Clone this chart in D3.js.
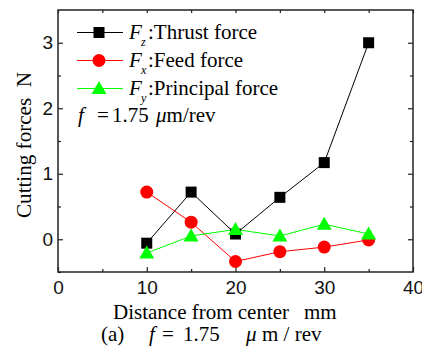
<!DOCTYPE html>
<html><head><meta charset="utf-8">
<script src="https://cdn.jsdelivr.net/npm/d3@7"></script>
<style>
body{margin:0;background:#fff;}
svg text{white-space:pre;}
</style></head>
<body>
<script>
const distances = [10, 15, 20, 25, 30, 35];
const thrustFz = [-0.06, 0.72, 0.08, 0.64, 1.17, 3.0];
const feedFx = [0.72, 0.26, -0.34, -0.19, -0.12, -0.01];
const principalFy = [-0.21, 0.05, 0.15, 0.05, 0.23, 0.08];
const xTicks = [0, 10, 20, 30, 40];
const yTicks = [0, 1, 2, 3];

const W = 422, H = 351;
const m = {l: 58, r: 413, t: 10, b: 272};
const svg = d3.select("body").append("svg").attr("width", W).attr("height", H);
const x = d3.scaleLinear().domain([0, 40]).range([m.l, m.r]);
const y = d3.scaleLinear().domain([-0.5, 3.5]).range([m.b, m.t]);

const axisColor = "#222";
svg.append("rect").attr("x", m.l).attr("y", m.t).attr("width", m.r - m.l).attr("height", m.b - m.t)
  .attr("fill", "none").attr("stroke", axisColor).attr("stroke-width", 1.5);

const tickFont = "'Liberation Sans', Arial, sans-serif";
svg.append("g").attr("transform", `translate(0,${m.b})`)
  .call(d3.axisBottom(x).tickValues(xTicks).tickSize(-5).tickPadding(9).tickFormat(d3.format("d")));
svg.append("g").attr("transform", `translate(0,${m.b})`)
  .call(d3.axisBottom(x).tickValues([5, 15, 25, 35]).tickSize(-3).tickFormat(""));
svg.append("g").attr("transform", `translate(0,${m.t})`)
  .call(d3.axisTop(x).tickValues(d3.range(0, 41, 5)).tickSize(-3).tickFormat(""));
svg.append("g").attr("transform", `translate(${m.l},0)`)
  .call(d3.axisLeft(y).tickValues(yTicks).tickSize(-5).tickPadding(5).tickFormat(d3.format("d")));
svg.append("g").attr("transform", `translate(${m.l},0)`)
  .call(d3.axisLeft(y).tickValues([-0.5, 0.5, 1.5, 2.5]).tickSize(-3).tickFormat(""));
svg.append("g").attr("transform", `translate(${m.r},0)`)
  .call(d3.axisRight(y).tickValues(yTicks).tickSize(-5).tickFormat(""));
svg.append("g").attr("transform", `translate(${m.r},0)`)
  .call(d3.axisRight(y).tickValues([0.5, 1.5, 2.5]).tickSize(-3).tickFormat(""));

svg.selectAll(".domain").remove();
svg.selectAll(".tick line").attr("stroke", axisColor).attr("stroke-width", 1.2);
svg.selectAll(".tick text").attr("font-family", tickFont).attr("font-size", 19).attr("fill", "#111");

const GREEN = "#00ff00";
const series = [
  {vals: thrustFz, color: "#000000", shape: "square"},
  {vals: feedFx, color: "#ff0000", shape: "circle"},
  {vals: principalFy, color: GREEN, shape: "triangle"}
];
const lineGen = d3.line().x(d => x(d[0])).y(d => y(d[1]));
function drawMarker(g, shape, color, cx, cy) {
  if (shape === "square") {
    g.append("rect").attr("x", cx - 5.5).attr("y", cy - 5.5).attr("width", 11).attr("height", 11).attr("fill", color);
  } else if (shape === "circle") {
    g.append("circle").attr("cx", cx).attr("cy", cy).attr("r", 6.5).attr("fill", color);
  } else {
    g.append("path").attr("d", `M${cx},${cy - 7.5}L${cx + 7.5},${cy + 5.5}L${cx - 7.5},${cy + 5.5}Z`).attr("fill", color);
  }
}
series.forEach(s => {
  const pts = distances.map((d, i) => [d, s.vals[i]]);
  svg.append("path").attr("d", lineGen(pts)).attr("fill", "none").attr("stroke", s.color).attr("stroke-width", 1);
});
series.forEach(s => {
  const g = svg.append("g");
  distances.forEach((d, i) => drawMarker(g, s.shape, s.color, x(d), y(s.vals[i])));
});

// legend
const serif = "'Liberation Serif', 'Times New Roman', serif";
const FS = 21;
const legend = [
  {sub: "z", label: ":Thrust force", color: "#000000", shape: "square"},
  {sub: "x", label: ":Feed force", color: "#ff0000", shape: "circle"},
  {sub: "y", label: ":Principal force", color: GREEN, shape: "triangle"}
];
legend.forEach((l, i) => {
  const cy = 32.5 + i * 28;
  const g = svg.append("g");
  g.append("line").attr("x1", 77).attr("x2", 123).attr("y1", cy).attr("y2", cy).attr("stroke", l.color).attr("stroke-width", 1);
  drawMarker(g, l.shape, l.color, 99, cy);
  const t = g.append("text").attr("y", cy + 6.5).attr("font-family", serif).attr("font-size", FS).attr("fill", "#000");
  t.append("tspan").attr("x", 129).attr("font-style", "italic").text("F");
  t.append("tspan").attr("x", 141).attr("font-style", "italic").attr("font-size", 12).attr("dy", 7).text(l.sub);
  t.append("tspan").attr("x", 148).attr("dy", -7).text(l.label);
});
const ft = svg.append("text").attr("y", 121.5).attr("font-family", serif).attr("font-size", FS).attr("fill", "#000");
ft.append("tspan").attr("x", 78).attr("font-style", "italic").text("f");
ft.append("tspan").attr("x", 97).text("=");
ft.append("tspan").attr("x", 112).text("1.75");
ft.append("tspan").attr("x", 156).attr("font-style", "italic").text("μ");
ft.append("tspan").text("m/rev");

// axis titles
svg.append("text").attr("transform", `translate(31,145) rotate(-90)`).attr("text-anchor", "middle")
  .attr("font-family", serif).attr("font-size", FS).attr("fill", "#000")
  .attr("textLength", 146).attr("lengthAdjust", "spacingAndGlyphs").text("Cutting forces  N");
const xt = svg.append("text").attr("y", 319).attr("font-family", serif).attr("font-size", FS).attr("fill", "#000");
xt.append("tspan").attr("x", 113).text("Distance from center");
xt.append("tspan").attr("x", 304).text("mm");
// caption
const cap = svg.append("text").attr("y", 341).attr("font-family", serif).attr("font-size", 21).attr("fill", "#000");
cap.append("tspan").attr("x", 101).text("(a)");
cap.append("tspan").attr("x", 149).attr("font-style", "italic").text("f");
cap.append("tspan").attr("x", 162).text("=");
cap.append("tspan").attr("x", 183).text("1.75");
cap.append("tspan").attr("x", 246).attr("font-style", "italic").text("μ");
cap.append("tspan").attr("x", 262).text("m / rev");
</script>
</body></html>
